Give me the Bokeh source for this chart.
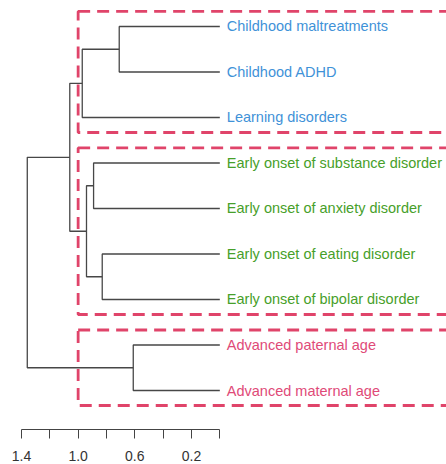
from bokeh.plotting import figure
from bokeh.models import Range1d, LinearAxis, FixedTicker, ColumnDataSource
from bokeh.core.properties import value
from bokeh.embed import file_html
from bokeh.resources import INLINE

# ---- data ----
labels = [
    "Childhood maltreatments",
    "Childhood ADHD",
    "Learning disorders",
    "Early onset of substance disorder",
    "Early onset of anxiety disorder",
    "Early onset of eating disorder",
    "Early onset of bipolar disorder",
    "Advanced paternal age",
    "Advanced maternal age",
]
label_group = [0, 0, 0, 1, 1, 1, 1, 2, 2]
group_colors = ["#3f92d8", "#47a02a", "#e04a78"]

# merges: (child a, child b, height); leaves are 0..8, new nodes are 9..
merge_a = [0, 9, 3, 5, 11, 10, 7, 14]
merge_b = [1, 2, 4, 6, 12, 13, 8, 15]
merge_h = [0.71, 0.971, 0.891, 0.83, 0.941, 1.059, 0.611, 1.359]

# highlighted clusters (first leaf, last leaf)
cluster_first = [0, 3, 7]
cluster_last = [2, 6, 8]

tick_values = [1.4, 1.2, 1.0, 0.8, 0.6, 0.4, 0.2, 0.0]
tick_labels = {1.4: "1.4", 1.2: "", 1.0: "1.0", 0.8: "", 0.6: "0.6", 0.4: "", 0.2: "0.2", 0.0: ""}

# ---- build dendrogram segments ----
n = len(labels)
node_y = {i: float(i) for i in range(n)}
node_h = {i: 0.0 for i in range(n)}
xs, ys = [], []
for k, (a, b, h) in enumerate(zip(merge_a, merge_b, merge_h)):
    nid = n + k
    ya, yb = node_y[a], node_y[b]
    xs.append([node_h[a], h, h, node_h[b]])
    ys.append([ya, ya, yb, yb])
    node_y[nid] = (ya + yb) / 2
    node_h[nid] = h

W, H = 446, 464
p = figure(width=W, height=H, output_backend="svg", toolbar_location=None,
           x_axis_type=None, y_axis_type=None,
           x_range=Range1d(1.548, -1.60), y_range=Range1d(8.857, -0.571),
           min_border_left=0, min_border_right=0, min_border_top=0,
           min_border_bottom=35)
p.outline_line_color = None
p.grid.visible = False
p.background_fill_color = "white"
p.border_fill_color = "white"

p.multi_line(xs, ys, line_color="#474747", line_width=1.3)

# cluster boxes
pad = 0.33
p.quad(left=[1.0] * len(cluster_first),
       right=[-2.0] * len(cluster_first),
       top=[f - pad for f in cluster_first],
       bottom=[l + pad for l in cluster_last],
       fill_color=None, line_color="#e0446a", line_width=2.8,
       line_dash="12 7")

# labels
src = ColumnDataSource(dict(
    x=[0.0] * n, y=list(range(n)), text=labels,
    color=[group_colors[g] for g in label_group]))
p.text(x="x", y="y", text="text", source=src, text_color="color",
       text_font=value("Liberation Sans"), text_font_size="14.5px",
       text_baseline="middle", text_align="left", x_offset=7)

ax = LinearAxis(ticker=FixedTicker(ticks=tick_values),
                major_label_overrides=tick_labels,
                bounds=(0.0, 1.4))
ax.minor_tick_line_color = None
ax.major_tick_in = 0
ax.major_tick_out = 9
ax.axis_line_color = "#444444"
ax.major_tick_line_color = "#444444"
ax.major_label_text_font = "Liberation Sans"
ax.major_label_text_font_size = "14px"
ax.major_label_text_color = "#333333"
ax.major_label_standoff = 12
p.add_layout(ax, "below")

open("out.html", "w").write(file_html(p, INLINE))
